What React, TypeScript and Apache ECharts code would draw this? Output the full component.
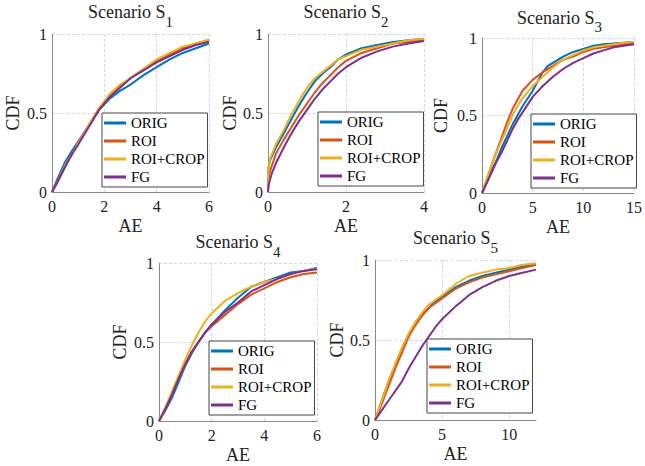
import React, { useEffect, useRef } from "react";
import * as echarts from "echarts";

const FONT = "Liberation Serif, Times New Roman, serif";
const NAMES = ["ORIG", "ROI", "ROI+CROP", "FG"];
const COLORS = ["#0072BD", "#D95319", "#EDB120", "#7E2F8E"];
const SCENARIOS = ["1", "2", "3", "4", "5"];
const X_MAX = [6, 4, 15, 6, 12];
const X_INTERVAL = [2, 2, 5, 2, 5];
const Y_TICKS = [0, 0.5, 1];

// Scenario S1
const s1Orig = [[0,0],[0.2,0.08],[0.5,0.19],[0.8,0.27],[1.0,0.32],[1.4,0.42],[1.8,0.52],[2.2,0.59],[2.6,0.64],[3.0,0.68],[3.5,0.74],[4.0,0.79],[4.5,0.84],[5.0,0.88],[5.5,0.91],[6.0,0.94]];
const s1Roi = [[0,0],[0.2,0.06],[0.5,0.16],[0.8,0.25],[1.0,0.31],[1.4,0.42],[1.8,0.53],[2.2,0.61],[2.6,0.67],[3.0,0.72],[3.5,0.78],[4.0,0.83],[4.5,0.87],[5.0,0.91],[5.5,0.94],[6.0,0.96]];
const s1Crop = [[0,0],[0.2,0.06],[0.5,0.17],[0.8,0.25],[1.0,0.31],[1.4,0.42],[1.8,0.53],[2.2,0.62],[2.6,0.68],[3.0,0.72],[3.5,0.78],[4.0,0.84],[4.5,0.88],[5.0,0.92],[5.5,0.94],[6.0,0.965]];
const s1Fg = [[0,0],[0.2,0.06],[0.5,0.16],[0.8,0.25],[1.0,0.30],[1.4,0.41],[1.8,0.52],[2.2,0.60],[2.6,0.66],[3.0,0.72],[3.5,0.77],[4.0,0.82],[4.5,0.86],[5.0,0.90],[5.5,0.93],[6.0,0.95]];

// Scenario S2
const s2Orig = [[0,0],[0.01,0.15],[0.05,0.2],[0.2,0.28],[0.4,0.37],[0.6,0.46],[0.8,0.55],[1.0,0.63],[1.2,0.7],[1.4,0.75],[1.6,0.79],[1.8,0.84],[2.0,0.87],[2.4,0.91],[2.8,0.93],[3.2,0.95],[3.6,0.96],[4.0,0.97]];
const s2Roi = [[0,0],[0.01,0.08],[0.05,0.13],[0.2,0.24],[0.4,0.33],[0.6,0.41],[0.8,0.49],[1.0,0.56],[1.2,0.63],[1.4,0.69],[1.6,0.74],[1.8,0.79],[2.0,0.83],[2.4,0.88],[2.8,0.91],[3.2,0.94],[3.6,0.95],[4.0,0.965]];
const s2Crop = [[0,0],[0.01,0.14],[0.05,0.21],[0.2,0.3],[0.4,0.39],[0.6,0.49],[0.8,0.58],[1.0,0.66],[1.2,0.72],[1.4,0.76],[1.6,0.8],[1.8,0.84],[2.0,0.86],[2.4,0.9],[2.8,0.92],[3.2,0.94],[3.6,0.96],[4.0,0.97]];
const s2Fg = [[0,0],[0.02,0.05],[0.1,0.12],[0.2,0.18],[0.4,0.28],[0.6,0.37],[0.8,0.45],[1.0,0.52],[1.2,0.59],[1.4,0.65],[1.6,0.7],[1.8,0.75],[2.0,0.79],[2.4,0.85],[2.8,0.89],[3.2,0.92],[3.6,0.94],[4.0,0.955]];

// Scenario S3
const s3Orig = [[0,0],[0.5,0.07],[1,0.15],[1.5,0.22],[2,0.3],[2.5,0.37],[3,0.44],[3.5,0.5],[4,0.56],[5,0.66],[6,0.78],[6.5,0.82],[7,0.84],[8,0.88],[9,0.91],[10,0.93],[11,0.95],[12,0.96],[13,0.965],[14,0.97],[15,0.975]];
const s3Roi = [[0,0],[0.5,0.09],[1,0.19],[1.5,0.28],[2,0.37],[2.5,0.46],[3,0.54],[3.5,0.6],[4,0.66],[5,0.73],[6,0.78],[7,0.82],[8,0.86],[9,0.88],[10,0.91],[11,0.93],[12,0.94],[13,0.95],[14,0.96],[15,0.965]];
const s3Crop = [[0,0],[0.5,0.1],[1,0.19],[1.5,0.27],[2,0.35],[2.5,0.42],[3,0.5],[3.5,0.56],[4,0.61],[5,0.69],[6,0.75],[7,0.81],[8,0.86],[9,0.89],[10,0.92],[11,0.94],[12,0.95],[13,0.96],[14,0.97],[15,0.975]];
const s3Fg = [[0,0],[0.5,0.07],[1,0.14],[1.5,0.21],[2,0.27],[2.5,0.34],[3,0.41],[3.5,0.47],[4,0.52],[5,0.62],[6,0.69],[7,0.75],[8,0.8],[9,0.84],[10,0.87],[11,0.9],[12,0.92],[13,0.94],[14,0.95],[15,0.96]];

// Scenario S4
const s4Orig = [[0,0],[0.25,0.07],[0.5,0.15],[0.75,0.25],[1,0.35],[1.25,0.43],[1.5,0.5],[1.75,0.56],[2,0.61],[2.5,0.7],[3,0.78],[3.5,0.85],[4,0.88],[4.5,0.91],[5,0.94],[5.5,0.95],[6,0.97]];
const s4Roi = [[0,0],[0.25,0.08],[0.5,0.17],[0.75,0.27],[1,0.36],[1.25,0.44],[1.5,0.5],[1.75,0.56],[2,0.6],[2.5,0.67],[3,0.74],[3.5,0.8],[4,0.84],[4.5,0.88],[5,0.91],[5.5,0.93],[6,0.94]];
const s4Crop = [[0,0],[0.25,0.09],[0.5,0.19],[0.75,0.29],[1,0.39],[1.25,0.48],[1.5,0.56],[1.75,0.63],[2,0.68],[2.5,0.76],[3,0.81],[3.5,0.85],[4,0.88],[4.5,0.9],[5,0.93],[5.5,0.95],[6,0.965]];
const s4Fg = [[0,0],[0.25,0.08],[0.5,0.17],[0.75,0.27],[1,0.36],[1.25,0.44],[1.5,0.5],[1.75,0.56],[2,0.61],[2.5,0.69],[3,0.75],[3.5,0.82],[4,0.86],[4.5,0.9],[5,0.93],[5.5,0.95],[6,0.96]];

// Scenario S5
const s5Orig = [[0,0],[0.5,0.12],[1,0.24],[1.5,0.34],[2,0.44],[2.5,0.53],[3,0.6],[3.5,0.66],[4,0.7],[4.5,0.74],[5,0.77],[6,0.83],[7,0.87],[8,0.9],[9,0.92],[10,0.94],[11,0.96],[12,0.97]];
const s5Roi = [[0,0],[0.5,0.1],[1,0.21],[1.5,0.32],[2,0.42],[2.5,0.52],[3,0.59],[3.5,0.65],[4,0.7],[4.5,0.73],[5,0.76],[6,0.82],[7,0.86],[8,0.89],[9,0.91],[10,0.93],[11,0.95],[12,0.97]];
const s5Crop = [[0,0],[0.5,0.12],[1,0.24],[1.5,0.35],[2,0.45],[2.5,0.54],[3,0.61],[3.5,0.67],[4,0.72],[4.5,0.75],[5,0.78],[6,0.85],[7,0.9],[8,0.92],[9,0.94],[10,0.95],[11,0.97],[12,0.98]];
const s5Fg = [[0,0],[0.5,0.06],[1,0.12],[1.5,0.18],[2,0.24],[2.5,0.32],[3,0.39],[3.5,0.46],[4,0.52],[4.5,0.58],[5,0.63],[6,0.71],[7,0.78],[8,0.83],[9,0.87],[10,0.9],[11,0.92],[12,0.94]];

const DATA = [
  [s1Orig, s1Roi, s1Crop, s1Fg],
  [s2Orig, s2Roi, s2Crop, s2Fg],
  [s3Orig, s3Roi, s3Crop, s3Fg],
  [s4Orig, s4Roi, s4Crop, s4Fg],
  [s5Orig, s5Roi, s5Crop, s5Fg],
];

// layout
const GRIDS = [
  { left: 52, top: 34, width: 157, height: 158 },
  { left: 268, top: 34, width: 156, height: 158 },
  { left: 482, top: 38, width: 155, height: 155 },
  { left: 159, top: 263, width: 158, height: 158 },
  { left: 375, top: 260, width: 161, height: 160 },
];
const TITLE_TOP = [3, 3, 8.5, 233, 229];
const LEGEND_POS = [
  { left: 102, top: 113 },
  { left: 318, top: 112 },
  { left: 531, top: 114 },
  { left: 209, top: 341 },
  { left: 427, top: 339 },
];
const Y_NAME_GAP = [30, 29, 32, 30, 29];

export default function App() {
  const ref = useRef<HTMLDivElement>(null);
  useEffect(() => {
    document.body.style.margin = "0";
    const chart = echarts.init(ref.current!, null, { renderer: "svg" });
    const gridLine = { show: true, lineStyle: { color: "#d2d2f2", type: [3, 2] as any, width: 1 } };
    const axisLine = { show: true, lineStyle: { color: "#8a8a8a", width: 1 } };
    const labelStyle = { fontFamily: FONT, fontSize: 16, color: "#222" };
    const nameStyle = { fontFamily: FONT, fontSize: 18, color: "#222" };

    const option: any = {
      animation: false,
      backgroundColor: "#fff",
      color: COLORS,
      textStyle: { fontFamily: FONT },
      title: SCENARIOS.map((s, i) => ({
        text: `{a|Scenario S}{b|${s}}`,
        left: GRIDS[i].left + GRIDS[i].width / 2,
        top: TITLE_TOP[i],
        textAlign: "center",
        padding: 0,
        textStyle: {
          fontFamily: FONT,
          fontWeight: "normal",
          fontSize: 18,
          color: "#222",
          rich: {
            a: { fontFamily: FONT, fontWeight: "normal", fontSize: 18, color: "#222", lineHeight: 26, verticalAlign: "top" },
            b: { fontFamily: FONT, fontWeight: "normal", fontSize: 15, color: "#222", lineHeight: 15, verticalAlign: "bottom" },
          },
        },
      })),
      legend: LEGEND_POS.map((p) => ({
        left: p.left,
        top: p.top,
        orient: "vertical",
        data: NAMES,
        icon: "rect",
        itemWidth: 22,
        itemHeight: 3,
        itemGap: 0,
        padding: [1, 3, 1, 2],
        backgroundColor: "#fff",
        borderColor: "#444",
        borderWidth: 1,
        borderRadius: 0,
        selectedMode: false,
        textStyle: { fontFamily: FONT, fontSize: 15, lineHeight: 18, color: "#000" },
      })),
      grid: GRIDS.map((g) => ({ ...g })),
      xAxis: GRIDS.map((_, i) => ({
        type: "value",
        gridIndex: i,
        min: 0,
        max: X_MAX[i],
        interval: X_INTERVAL[i],
        name: "AE",
        nameLocation: "middle",
        nameGap: 25,
        nameTextStyle: nameStyle,
        axisLine,
        axisTick: { show: false },
        axisLabel: { ...labelStyle, margin: 6, showMaxLabel: X_MAX[i] % X_INTERVAL[i] === 0 },
        splitLine: { ...gridLine, showMaxLine: X_MAX[i] % X_INTERVAL[i] === 0 },
      })),
      yAxis: GRIDS.map((_, i) => ({
        type: "value",
        gridIndex: i,
        min: Y_TICKS[0],
        max: Y_TICKS[Y_TICKS.length - 1],
        interval: Y_TICKS[1] - Y_TICKS[0],
        name: "CDF",
        nameLocation: "middle",
        nameGap: Y_NAME_GAP[i],
        nameTextStyle: nameStyle,
        axisLine,
        axisTick: { show: false },
        axisLabel: { ...labelStyle, margin: 5 },
        splitLine: gridLine,
      })),
      series: DATA.flatMap((group, gi) =>
        group.map((d, si) => ({
          type: "line",
          name: NAMES[si],
          xAxisIndex: gi,
          yAxisIndex: gi,
          data: d,
          showSymbol: false,
          symbol: "none",
          smooth: false,
          lineStyle: { width: 2, color: COLORS[si] },
          itemStyle: { color: COLORS[si] },
          z: 2 + si * 0.1,
        }))
      ),
    };
    chart.setOption(option);
    return () => chart.dispose();
  }, []);
  return <div ref={ref} style={{ width: 645, height: 466 }} />;
}
